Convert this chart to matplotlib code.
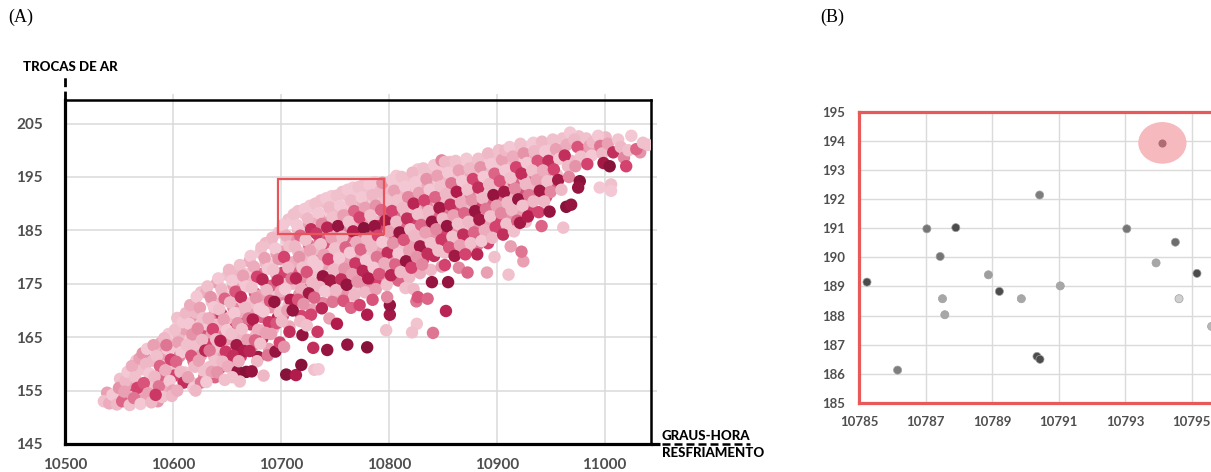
import matplotlib.pyplot as plt
from matplotlib.colors import LinearSegmentedColormap
from matplotlib.patches import Rectangle, Ellipse

plt.rcParams['font.family'] = ['Lato', 'DejaVu Sans']

# (A) graus-hora de resfriamento x trocas de ar (tom = intensidade da cor)
gh = [
    10536, 10541,
    10544, 10548, 10550,
    10553, 10556, 10558, 10555, 10560,
    10562, 10565, 10567, 10564, 10569, 10570,
    10572, 10575, 10578, 10573, 10577, 10580, 10576,
    10582, 10585, 10588, 10583, 10587, 10590, 10584,
    10592, 10595, 10598, 10593, 10597, 10600, 10594, 10599,
    10602, 10605, 10608, 10603, 10607, 10610, 10604, 10609,
    10612, 10615, 10618, 10613, 10617, 10620, 10614, 10619, 10616,
    10622, 10625, 10628, 10623, 10627, 10630, 10624, 10629, 10626, 10621,
    10632, 10635, 10638, 10633, 10637, 10640, 10634, 10639, 10636, 10631,
    10642, 10645, 10648, 10643, 10647, 10650, 10644, 10649, 10646, 10641, 10648,
    10652, 10655, 10658, 10653, 10657, 10660, 10654, 10659, 10656, 10651, 10660, 10655,
    10662, 10665, 10668, 10663, 10667, 10670, 10664, 10669, 10666, 10661, 10668, 10662,
    10672, 10675, 10678, 10673, 10677, 10680, 10674, 10679, 10676, 10671, 10678, 10673,
    10682, 10685, 10688, 10683, 10687, 10690, 10684, 10689, 10686, 10681, 10688, 10684,
    10692, 10695, 10698, 10693, 10697, 10700, 10694, 10699, 10696, 10691, 10695, 10699,
    10702, 10705, 10708, 10703, 10707, 10710, 10704, 10709, 10706, 10701, 10708, 10705, 10703,
    10712, 10715, 10718, 10713, 10717, 10720, 10714, 10719, 10716, 10711, 10718, 10714, 10719, 10720,
    10722, 10725, 10728, 10723, 10727, 10730, 10724, 10729, 10726, 10721, 10728, 10724, 10730,
    10732, 10735, 10738, 10733, 10737, 10740, 10734, 10739, 10736, 10731, 10738, 10731, 10735, 10734,
    10742, 10745, 10748, 10743, 10747, 10750, 10744, 10749, 10746, 10741, 10748, 10743, 10745,
    10752, 10755, 10758, 10753, 10757, 10760, 10754, 10759, 10756, 10751, 10758, 10752,
    10762, 10765, 10768, 10763, 10767, 10770, 10764, 10769, 10766, 10761, 10768, 10761.6, 10765,
    10772, 10775, 10778, 10773, 10777, 10780, 10774, 10779, 10776, 10771, 10778, 10780, 10780, 10773,
    10782, 10785, 10788, 10783, 10787, 10790, 10784, 10789, 10786, 10781, 10788, 10785,
    10792.4, 10794.1, 10798, 10793, 10797, 10800, 10794, 10799, 10796, 10791, 10798, 10797.6, 10801, 10801, 10798.5,
    10803, 10805, 10808, 10803, 10807, 10810, 10804, 10809, 10806, 10802,
    10812, 10815, 10818, 10813, 10817, 10820, 10814, 10819, 10816, 10811, 10815.5,
    10822, 10825, 10828, 10823, 10827, 10830, 10824, 10829, 10826, 10821, 10826, 10821.6, 10825.6, 10823, 10827,
    10832, 10835, 10838, 10833, 10837, 10840, 10834, 10839, 10836, 10831, 10836, 10840,
    10842, 10845, 10848, 10843, 10847, 10850, 10844, 10849, 10846, 10841, 10849,
    10852, 10855, 10858, 10853, 10857, 10860, 10854, 10859, 10856, 10853, 10855, 10852,
    10862, 10865, 10868, 10863, 10867, 10870, 10864, 10869, 10866, 10861, 10865,
    10872, 10875, 10878, 10873, 10877, 10880, 10874, 10879, 10876, 10873, 10871,
    10883, 10885, 10888, 10883, 10887, 10890, 10884, 10889, 10886, 10891, 10882,
    10892, 10895, 10898, 10893, 10897, 10900, 10894, 10899, 10896, 10898,
    10902, 10905, 10908, 10903, 10907, 10910, 10904, 10909, 10906, 10911, 10908,
    10912, 10915, 10918, 10913, 10917, 10920, 10914, 10919, 10916, 10921.6, 10913,
    10922, 10925, 10928, 10923, 10927, 10930, 10924, 10929, 10924.7, 10923,
    10934, 10935, 10938, 10933, 10937, 10940, 10934, 10939, 10941.6,
    10942, 10945, 10948, 10943, 10947, 10950, 10944, 10949,
    10952, 10955, 10958, 10953, 10957, 10960, 10961.7,
    10968, 10965, 10963, 10966, 10964.5, 10969, 10967,
    10972, 10975, 10978, 10977, 10975.5, 10973,
    10983, 10986, 10988, 10984, 10989,
    10994, 10996, 10998, 10995.5, 10999,
    11004.7, 11006, 11006, 11003, 11008, 11012.5,
    11015, 11018, 11024.8, 11022, 11029.4, 11035.5, 11020,
]
trocas = [
    153.0, 152.6,
    154.2, 152.4, 155.5,
    153.0, 156.8, 158.5, 154.8, 152.3,
    159.6, 157.5, 155.5, 153.6, 161.0, 152.5,
    162.0, 160.0, 158.2, 156.4, 154.5, 152.8, 162.8,
    163.5, 161.5, 159.6, 157.6, 155.8, 153.8, 154.2,
    164.8, 162.8, 160.8, 158.8, 156.8, 155.0, 163.5, 154.0,
    166.4, 164.0, 162.2, 160.4, 158.5, 156.5, 155.0, 167.8,
    169.5, 167.5, 165.5, 163.5, 161.5, 159.5, 157.5, 155.5, 171.0,
    172.6, 170.5, 168.6, 166.6, 164.5, 162.5, 160.6, 158.6, 156.5, 155.0,
    174.5, 172.5, 170.6, 168.5, 166.5, 164.6, 162.5, 160.5, 158.5, 156.6,
    176.0, 174.0, 172.2, 170.2, 168.3, 166.3, 164.3, 162.3, 160.4, 158.4, 157.0,
    177.6, 175.6, 173.5, 171.5, 169.5, 167.6, 165.6, 163.5, 161.5, 159.5, 158.6, 157.5,
    178.5, 176.5, 174.5, 172.5, 170.5, 168.5, 166.5, 164.5, 162.4, 160.5, 158.5, 156.7,
    180.2, 178.2, 176.3, 174.3, 172.3, 170.3, 168.3, 166.4, 164.4, 162.4, 160.5, 158.6,
    181.8, 179.8, 177.8, 175.8, 173.8, 171.8, 169.8, 167.8, 165.8, 163.8, 161.6, 157.8,
    183.6, 181.6, 179.6, 177.6, 175.6, 173.6, 171.6, 169.6, 167.6, 165.6, 162.3, 164.0,
    186.0, 184.0, 182.0, 180.0, 178.0, 176.0, 174.0, 172.0, 170.0, 168.0, 166.0, 158.0, 163.2,
    188.0, 186.0, 184.0, 182.0, 180.0, 178.0, 176.0, 174.0, 172.0, 170.0, 168.0, 157.9, 159.8, 165.4,
    189.0, 187.2, 185.2, 183.2, 181.2, 179.2, 177.2, 175.2, 173.2, 171.2, 169.2, 167.2, 163.0,
    190.0, 188.2, 186.2, 184.4, 182.4, 180.4, 178.4, 176.4, 174.4, 172.4, 170.4, 158.9, 159.0, 166.0,
    191.0, 189.3, 187.4, 185.5, 183.6, 181.6, 179.6, 177.6, 175.6, 173.6, 171.6, 162.6, 168.5,
    191.5, 189.6, 187.8, 185.8, 183.8, 181.8, 179.8, 177.8, 175.8, 173.8, 171.8, 167.5,
    192.6, 190.6, 188.6, 186.6, 184.8, 182.8, 180.8, 178.8, 176.8, 174.8, 172.8, 163.6, 170.5,
    193.1, 191.2, 189.2, 187.4, 185.4, 183.4, 181.4, 179.4, 177.4, 175.4, 173.4, 163.1, 169.2, 171.0,
    193.6, 191.6, 189.6, 187.8, 185.8, 184.0, 182.0, 180.0, 178.0, 176.0, 174.0, 172.0,
    192.4, 193.9, 190.6, 188.8, 186.8, 184.8, 182.8, 180.8, 178.8, 176.8, 174.8, 166.3, 169.2, 171.0, 172.5,
    194.4, 192.4, 190.6, 188.6, 186.6, 184.6, 182.6, 180.6, 178.6, 176.6,
    195.0, 193.2, 191.2, 189.2, 187.2, 185.2, 183.2, 181.2, 179.2, 177.2, 174.2,
    195.8, 194.0, 192.0, 190.0, 188.0, 186.0, 184.0, 182.0, 180.0, 178.0, 167.5, 165.9, 171.7, 174.0, 172.5,
    196.6, 194.6, 192.6, 190.6, 188.6, 186.6, 184.6, 182.6, 180.6, 178.6, 172.2, 175.3,
    197.2, 195.2, 193.2, 191.2, 189.2, 187.2, 185.2, 183.2, 181.2, 165.8, 198.1,
    197.8, 195.8, 193.8, 191.8, 189.8, 187.8, 185.8, 183.8, 181.8, 169.9, 175.3, 178.5,
    198.0, 196.2, 194.2, 192.2, 190.2, 188.2, 186.2, 184.2, 182.2, 180.2, 178.0,
    198.4, 196.6, 194.6, 192.6, 190.6, 188.6, 186.6, 184.6, 182.6, 177.1, 180.5,
    198.4, 196.8, 195.0, 193.0, 191.0, 189.0, 187.0, 185.0, 183.0, 177.1, 180.5,
    199.4, 197.4, 195.6, 193.6, 191.6, 189.6, 187.6, 185.6, 183.6, 180.0,
    200.0, 198.2, 196.2, 194.2, 192.2, 190.2, 188.2, 186.2, 184.2, 176.7, 200.0,
    200.6, 198.8, 196.8, 194.8, 192.8, 190.8, 188.8, 186.8, 184.8, 186.4, 182.0,
    201.2, 199.4, 197.6, 195.6, 193.6, 191.6, 189.6, 187.6, 179.2, 181.0,
    201.4, 199.8, 198.0, 196.2, 194.4, 192.4, 190.4, 188.4, 185.8,
    201.6, 199.8, 198.0, 196.2, 194.2, 192.2, 190.4, 188.5,
    202.0, 200.2, 198.4, 196.4, 194.4, 192.6, 185.5,
    203.3, 201.0, 199.0, 197.0, 189.4, 189.8, 195.0,
    202.0, 200.6, 198.8, 194.2, 193.0, 197.0,
    202.2, 200.8, 199.0, 197.4, 201.5,
    202.7, 200.8, 199.4, 193.0, 197.6,
    197.0, 193.6, 192.4, 201.2, 199.6, 202.0,
    200.6, 198.6, 202.7, 200.0, 200.2, 201.4, 197.0,
]
tom = [
    0.15, 0.25,
    0.1, 0.2, 0.35,
    0.5, 0.2, 0.1, 0.3, 0.15,
    0.25, 0.15, 0.6, 0.45, 0.3, 0.1,
    0.35, 0.2, 0.1, 0.55, 0.3, 0.2, 0.1,
    0.3, 0.15, 0.5, 0.2, 0.45, 0.15, 0.65,
    0.2, 0.1, 0.6, 0.25, 0.1, 0.3, 0.45, 0.2,
    0.15, 0.3, 0.1, 0.5, 0.2, 0.7, 0.25, 0.1,
    0.2, 0.1, 0.35, 0.15, 0.55, 0.2, 0.3, 0.1, 0.25,
    0.1, 0.3, 0.15, 0.4, 0.2, 0.75, 0.3, 0.15, 0.45, 0.2,
    0.15, 0.35, 0.1, 0.25, 0.6, 0.2, 0.45, 0.15, 0.3, 0.1,
    0.1, 0.2, 0.5, 0.15, 0.3, 0.1, 0.8, 0.65, 0.2, 0.35, 0.15,
    0.2, 0.1, 0.55, 0.2, 0.1, 0.35, 0.15, 0.85, 0.7, 0.25, 0.9, 0.15,
    0.15, 0.3, 0.1, 0.7, 0.2, 0.45, 0.15, 0.3, 0.8, 0.25, 0.95, 0.15,
    0.1, 0.25, 0.6, 0.15, 0.35, 0.1, 0.8, 0.25, 0.5, 0.75, 0.2, 0.9,
    0.15, 0.3, 0.1, 0.75, 0.2, 0.55, 0.1, 0.65, 0.3, 0.15, 0.45, 0.2,
    0.2, 0.1, 0.35, 0.15, 0.7, 0.25, 0.9, 0.15, 0.55, 0.3, 0.9, 0.6,
    0.1, 0.25, 0.15, 0.6, 0.2, 0.45, 0.1, 0.8, 0.3, 0.2, 0.7, 0.95, 0.35,
    0.15, 0.1, 0.5, 0.2, 0.35, 0.15, 0.75, 0.25, 0.55, 0.9, 0.2, 0.8, 0.95, 0.9,
    0.1, 0.2, 0.7, 0.15, 0.3, 0.1, 0.55, 0.2, 0.85, 0.35, 0.6, 0.15, 0.7,
    0.15, 0.1, 0.4, 0.65, 0.15, 0.3, 0.1, 0.9, 0.2, 0.5, 0.75, 0.15, 0.1, 0.65,
    0.1, 0.2, 0.15, 0.75, 0.3, 0.15, 0.6, 0.2, 0.85, 0.1, 0.45, 0.9, 0.3,
    0.15, 0.1, 0.3, 0.9, 0.2, 0.5, 0.1, 0.35, 0.7, 0.2, 0.55, 0.8,
    0.1, 0.2, 0.5, 0.15, 0.8, 0.25, 0.1, 0.65, 0.3, 0.9, 0.2, 0.9, 0.5,
    0.15, 0.1, 0.3, 0.6, 0.95, 0.2, 0.5, 0.1, 0.75, 0.35, 0.2, 0.95, 0.8, 0.6,
    0.1, 0.2, 0.35, 0.15, 0.9, 0.6, 0.2, 0.45, 0.1, 0.8, 0.3, 0.55,
    0.2, 0.35, 0.15, 0.5, 0.85, 0.3, 0.1, 0.7, 0.25, 0.55, 0.15, 0.15, 0.85, 0.9, 0.4,
    0.1, 0.3, 0.15, 0.6, 0.2, 0.9, 0.35, 0.1, 0.5, 0.75,
    0.15, 0.1, 0.4, 0.2, 0.7, 0.15, 0.55, 0.3, 0.9, 0.2, 0.15,
    0.2, 0.1, 0.3, 0.75, 0.15, 0.5, 0.2, 0.85, 0.35, 0.6, 0.12, 0.15, 0.45, 0.2, 0.55,
    0.15, 0.35, 0.1, 0.6, 0.2, 0.9, 0.3, 0.15, 0.7, 0.4, 0.5, 0.9,
    0.1, 0.3, 0.15, 0.5, 0.85, 0.2, 0.4, 0.65, 0.15, 0.45, 0.4,
    0.2, 0.1, 0.45, 0.2, 0.7, 0.3, 0.9, 0.15, 0.55, 0.75, 0.9, 0.6,
    0.15, 0.3, 0.1, 0.8, 0.25, 0.5, 0.15, 0.7, 0.3, 0.85, 0.4,
    0.1, 0.2, 0.6, 0.15, 0.35, 0.9, 0.2, 0.5, 0.15, 0.5, 0.6,
    0.15, 0.35, 0.1, 0.7, 0.2, 0.45, 0.85, 0.25, 0.1, 0.3, 0.75,
    0.2, 0.1, 0.5, 0.2, 0.9, 0.3, 0.15, 0.6, 0.2, 0.15,
    0.15, 0.3, 0.1, 0.55, 0.85, 0.2, 0.4, 0.15, 0.7, 0.15, 0.2,
    0.1, 0.25, 0.6, 0.15, 0.4, 0.9, 0.2, 0.5, 0.15, 0.85, 0.3,
    0.15, 0.35, 0.1, 0.7, 0.2, 0.45, 0.15, 0.8, 0.3, 0.45,
    0.1, 0.2, 0.55, 0.15, 0.3, 0.85, 0.2, 0.6, 0.5,
    0.2, 0.1, 0.7, 0.25, 0.15, 0.4, 0.2, 0.9,
    0.15, 0.3, 0.1, 0.6, 0.85, 0.2, 0.15,
    0.1, 0.25, 0.7, 0.2, 0.95, 0.9, 0.4,
    0.2, 0.55, 0.15, 0.95, 0.9, 0.35,
    0.15, 0.3, 0.1, 0.6, 0.2,
    0.1, 0.45, 0.2, 0.1, 0.85,
    0.95, 0.15, 0.1, 0.3, 0.7, 0.12,
    0.2, 0.4, 0.1, 0.15, 0.5, 0.15, 0.6,
]

# pontos do miolo da nuvem (mesma série, lidos entre os anteriores)
gh_miolo = [
    10539, 10546,
    10551, 10557, 10559,
    10561, 10566, 10568, 10563,
    10571, 10574, 10579, 10576, 10571,
    10581, 10586, 10589, 10581, 10586, 10589,
    10591, 10596, 10593, 10598, 10596, 10591,
    10601, 10606, 10603, 10608, 10606, 10601, 10604,
    10611, 10616, 10613, 10619, 10611, 10617, 10619,
    10621, 10626, 10629, 10622, 10626, 10621, 10629, 10626,
    10631, 10636, 10639, 10631, 10636, 10633, 10638, 10634, 10639,
    10641, 10646, 10641, 10645, 10641, 10646, 10642, 10647, 10644,
    10651, 10656, 10651, 10656, 10652, 10657, 10651, 10657, 10653,
    10661, 10666, 10661, 10666, 10661, 10666, 10661, 10667, 10663, 10668,
    10671, 10676, 10671, 10676, 10671, 10676, 10672, 10677, 10674, 10679,
    10681, 10686, 10681, 10686, 10681, 10686, 10682, 10687, 10683, 10689, 10686,
    10691, 10696, 10691, 10696, 10691, 10696, 10691, 10697, 10693, 10698,
    10701, 10706, 10701, 10706, 10701, 10706, 10701, 10707, 10702, 10708, 10707,
    10711, 10716, 10711, 10716, 10711, 10716, 10711, 10717, 10712, 10719, 10716,
    10721, 10726, 10721, 10726, 10721, 10726, 10721, 10727, 10722, 10729, 10727,
    10731, 10736, 10731, 10736, 10731, 10736, 10731, 10737, 10732, 10739, 10737,
    10741, 10746, 10741, 10746, 10741, 10746, 10741, 10747, 10742, 10749, 10747,
    10751, 10756, 10751, 10756, 10751, 10756, 10751, 10757, 10752, 10759, 10757,
    10761, 10766, 10761, 10766, 10761, 10766, 10761, 10767, 10762, 10769, 10767,
    10771, 10776, 10771, 10776, 10771, 10776, 10771, 10777, 10772, 10779, 10777,
    10781, 10786, 10781, 10786, 10781, 10786, 10781, 10787, 10782, 10789, 10787,
    10791, 10796, 10791, 10796, 10791, 10796, 10791, 10797, 10792, 10799,
    10801, 10806, 10801, 10806, 10801, 10806, 10801, 10807, 10802, 10809, 10807,
    10811, 10816, 10811, 10816, 10811, 10816, 10811, 10817, 10812, 10819,
    10821, 10826, 10821, 10826, 10821, 10826, 10821, 10827, 10822, 10829, 10827,
    10831, 10836, 10831, 10836, 10831, 10836, 10831, 10837, 10832, 10839,
    10841, 10846, 10841, 10846, 10841, 10846, 10841, 10847, 10842, 10849,
    10851, 10856, 10851, 10856, 10851, 10856, 10851, 10857, 10852, 10857,
    10861, 10866, 10861, 10866, 10861, 10866, 10861, 10867, 10862,
    10871, 10876, 10871, 10876, 10871, 10876, 10871, 10877, 10872,
    10881, 10886, 10881, 10886, 10881, 10886, 10881, 10887, 10882,
    10891, 10896, 10891, 10896, 10891, 10896, 10891, 10897, 10892,
    10901, 10906, 10901, 10906, 10901, 10906, 10901, 10907,
    10911, 10916, 10911, 10916, 10911, 10916, 10911, 10917,
    10921, 10926, 10921, 10926, 10921, 10926, 10921, 10927,
    10931, 10936, 10931, 10936, 10931, 10936, 10932,
    10941, 10946, 10941, 10946, 10941, 10946,
    10951, 10956, 10951, 10956, 10951,
    10961, 10961, 10969,
    10976, 10980,
    10990,
    11001,
    11033, 11040,
]
trocas_miolo = [
    154.6, 153.4,
    157.2, 155.6, 153.8,
    156.4, 160.6, 154.2, 158.5,
    159.0, 161.2, 157.2, 155.4, 153.2,
    160.6, 162.8, 158.5, 156.4, 153.0, 164.0,
    161.8, 159.8, 157.4, 163.8, 165.6, 155.6,
    163.2, 161.4, 159.2, 157.4, 165.2, 157.8, 168.6,
    166.5, 164.6, 162.4, 160.5, 158.4, 156.5, 168.6,
    169.6, 167.5, 165.5, 163.5, 161.6, 159.5, 157.6, 173.4,
    173.4, 171.6, 169.5, 167.4, 165.5, 163.6, 161.4, 159.4, 157.5,
    175.2, 173.0, 171.2, 169.3, 167.2, 165.2, 163.3, 161.4, 159.3,
    176.6, 174.6, 172.6, 170.5, 168.6, 166.6, 164.6, 162.5, 160.5,
    177.4, 175.5, 173.5, 171.5, 169.5, 167.5, 165.5, 163.4, 161.4, 176.8,
    179.2, 177.3, 175.3, 173.2, 171.3, 169.3, 167.4, 165.4, 163.4, 161.3,
    180.8, 178.8, 176.8, 174.8, 172.8, 170.8, 168.8, 166.8, 164.8, 162.8, 182.6,
    182.6, 180.6, 178.6, 176.6, 174.6, 172.6, 170.6, 168.6, 166.6, 184.6,
    184.9, 183.0, 181.0, 179.0, 177.0, 175.0, 173.0, 171.0, 169.0, 167.0, 187.0,
    187.0, 185.0, 183.0, 181.0, 179.0, 177.0, 175.0, 173.0, 171.0, 169.0, 188.6,
    188.2, 186.2, 184.2, 182.2, 180.2, 178.2, 176.2, 174.2, 172.2, 170.2, 189.6,
    189.2, 187.2, 185.3, 183.4, 181.4, 179.4, 177.4, 175.4, 173.4, 171.4, 190.6,
    190.2, 188.4, 186.4, 184.5, 182.6, 180.6, 178.6, 176.6, 174.6, 172.6, 191.4,
    190.6, 188.7, 186.8, 184.8, 182.8, 180.8, 178.8, 176.8, 174.8, 172.8, 192.2,
    191.6, 189.6, 187.6, 185.7, 183.8, 181.8, 179.8, 177.8, 175.8, 173.8, 193.0,
    192.2, 190.2, 188.3, 186.4, 184.4, 182.4, 180.4, 178.4, 176.4, 174.4, 193.6,
    192.6, 190.6, 188.7, 186.8, 184.9, 183.0, 181.0, 179.0, 177.0, 175.0, 194.0,
    193.4, 191.6, 189.7, 187.8, 185.8, 183.8, 181.8, 179.8, 177.8, 175.8,
    193.4, 191.5, 189.6, 187.6, 185.6, 183.6, 181.6, 179.6, 177.6, 175.6, 195.2,
    194.2, 192.2, 190.2, 188.2, 186.2, 184.2, 182.2, 180.2, 178.2, 176.2,
    194.8, 193.0, 191.0, 189.0, 187.0, 185.0, 183.0, 181.0, 179.0, 177.0, 196.4,
    195.6, 193.6, 191.6, 189.6, 187.6, 185.6, 183.6, 181.6, 179.6, 177.6,
    196.2, 194.2, 192.2, 190.2, 188.2, 186.2, 184.2, 182.2, 180.2, 178.2,
    196.8, 194.8, 192.8, 190.8, 188.8, 186.8, 184.8, 182.8, 180.8, 197.8,
    197.2, 195.2, 193.2, 191.2, 189.2, 187.2, 185.2, 183.2, 181.2,
    197.6, 195.6, 193.6, 191.6, 189.6, 187.6, 185.6, 183.6, 181.6,
    197.8, 196.0, 194.0, 192.0, 190.0, 188.0, 186.0, 184.0, 182.2,
    198.6, 196.6, 194.6, 192.6, 190.6, 188.6, 186.6, 184.6, 182.6,
    199.2, 197.2, 195.2, 193.2, 191.2, 189.2, 187.2, 185.2,
    199.8, 197.8, 195.8, 193.8, 191.8, 189.8, 187.8, 185.8,
    200.4, 198.5, 196.6, 194.6, 192.6, 190.6, 188.6, 186.6,
    200.8, 199.0, 197.2, 195.2, 193.4, 191.4, 189.4,
    200.8, 198.9, 197.1, 195.2, 193.2, 191.3,
    201.2, 199.3, 197.4, 195.4, 193.4,
    202.2, 200.0, 198.0,
    202.6, 200.0,
    199.6,
    202.4,
    199.6, 201.0,
]
tom_miolo = [
    0.3, 0.45,
    0.15, 0.6, 0.2,
    0.3, 0.1, 0.2, 0.4,
    0.15, 0.45, 0.25, 0.7, 0.3,
    0.2, 0.1, 0.3, 0.15, 0.35, 0.25,
    0.3, 0.15, 0.5, 0.2, 0.1, 0.25,
    0.1, 0.4, 0.15, 0.3, 0.2, 0.6, 0.15,
    0.3, 0.1, 0.25, 0.45, 0.15, 0.2, 0.35,
    0.2, 0.1, 0.55, 0.15, 0.3, 0.2, 0.4, 0.15,
    0.25, 0.15, 0.4, 0.1, 0.3, 0.6, 0.2, 0.15, 0.5,
    0.3, 0.1, 0.2, 0.65, 0.2, 0.4, 0.15, 0.3, 0.55,
    0.15, 0.3, 0.1, 0.4, 0.2, 0.6, 0.3, 0.2, 0.5,
    0.2, 0.1, 0.35, 0.15, 0.25, 0.75, 0.2, 0.45, 0.6, 0.1,
    0.25, 0.1, 0.2, 0.55, 0.15, 0.3, 0.65, 0.2, 0.4, 0.85,
    0.1, 0.2, 0.45, 0.15, 0.3, 0.2, 0.5, 0.15, 0.7, 0.3, 0.2,
    0.15, 0.3, 0.1, 0.25, 0.5, 0.15, 0.35, 0.75, 0.2, 0.1,
    0.2, 0.1, 0.3, 0.15, 0.6, 0.2, 0.4, 0.15, 0.55, 0.25, 0.15,
    0.1, 0.2, 0.35, 0.15, 0.25, 0.5, 0.2, 0.35, 0.15, 0.6, 0.15,
    0.15, 0.3, 0.1, 0.45, 0.2, 0.15, 0.35, 0.65, 0.2, 0.3, 0.1,
    0.1, 0.25, 0.15, 0.5, 0.2, 0.35, 0.15, 0.55, 0.25, 0.4, 0.15,
    0.15, 0.1, 0.3, 0.2, 0.55, 0.15, 0.3, 0.2, 0.6, 0.25, 0.1,
    0.1, 0.2, 0.15, 0.4, 0.2, 0.3, 0.15, 0.5, 0.25, 0.35, 0.15,
    0.15, 0.1, 0.35, 0.2, 0.5, 0.15, 0.3, 0.2, 0.6, 0.15, 0.1,
    0.1, 0.25, 0.15, 0.3, 0.45, 0.15, 0.25, 0.5, 0.2, 0.35, 0.15,
    0.15, 0.1, 0.3, 0.2, 0.55, 0.2, 0.15, 0.4, 0.25, 0.6, 0.1,
    0.1, 0.2, 0.15, 0.35, 0.6, 0.2, 0.3, 0.15, 0.5, 0.3,
    0.15, 0.1, 0.25, 0.45, 0.2, 0.6, 0.15, 0.35, 0.2, 0.5, 0.1,
    0.1, 0.2, 0.3, 0.15, 0.5, 0.25, 0.15, 0.6, 0.3, 0.2,
    0.15, 0.1, 0.35, 0.2, 0.6, 0.15, 0.3, 0.2, 0.5, 0.25, 0.1,
    0.1, 0.25, 0.15, 0.4, 0.2, 0.55, 0.15, 0.3, 0.6, 0.2,
    0.15, 0.1, 0.3, 0.2, 0.5, 0.15, 0.35, 0.2, 0.7, 0.3,
    0.1, 0.2, 0.35, 0.15, 0.45, 0.2, 0.6, 0.25, 0.15, 0.15,
    0.15, 0.1, 0.3, 0.2, 0.55, 0.15, 0.35, 0.2, 0.5,
    0.1, 0.25, 0.15, 0.4, 0.2, 0.55, 0.15, 0.3, 0.2,
    0.15, 0.1, 0.3, 0.15, 0.6, 0.2, 0.35, 0.15, 0.45,
    0.1, 0.2, 0.35, 0.15, 0.5, 0.2, 0.3, 0.15, 0.6,
    0.15, 0.1, 0.3, 0.2, 0.45, 0.15, 0.6, 0.25,
    0.1, 0.2, 0.15, 0.5, 0.25, 0.15, 0.35, 0.6,
    0.15, 0.1, 0.35, 0.2, 0.55, 0.15, 0.3, 0.2,
    0.1, 0.25, 0.15, 0.45, 0.2, 0.3, 0.6,
    0.15, 0.2, 0.1, 0.35, 0.2, 0.55,
    0.1, 0.2, 0.35, 0.15, 0.5,
    0.15, 0.3, 0.2,
    0.15, 0.35,
    0.3,
    0.2,
    0.35, 0.15,
]

# (B) recorte ampliado
gh_zoom = [10785.24, 10786.16, 10787.04, 10787.91, 10787.44, 10787.51, 10787.58,
           10788.89, 10789.22, 10789.88, 10790.43, 10790.35, 10790.44, 10791.05,
           10793.05, 10794.51, 10793.93, 10795.16, 10794.62, 10795.6]
trocas_zoom = [189.15, 186.13, 190.98, 191.02, 190.03, 188.58, 188.03,
               189.40, 188.83, 188.58, 192.14, 186.60, 186.50, 189.02,
               190.98, 190.52, 189.81, 189.45, 188.58, 187.63]
tom_zoom = [0.9, 0.6, 0.65, 0.9, 0.65, 0.35, 0.35,
            0.4, 0.9, 0.35, 0.6, 0.9, 0.9, 0.35,
            0.65, 0.7, 0.35, 0.9, 0.1, 0.25]
destaque = (10794.12, 193.93)

xticks_a = [10500, 10600, 10700, 10800, 10900, 11000]
yticks_a = [145, 155, 165, 175, 185, 195, 205]
xticks_b = [10785, 10787, 10789, 10791, 10793, 10795]
xgrid_b = [10797, 10799]
yticks_b = list(range(185, 196))

rosa = LinearSegmentedColormap.from_list(
    'rosa', ['#f6d6de', '#efb8c7', '#e2879f', '#d4426f', '#b11c4c', '#7a0f34'])
cinza = LinearSegmentedColormap.from_list('cinza', ['#e0e0e0', '#3c3c3c'])

W, H = 1211, 472
fig = plt.figure(figsize=(W / 100, H / 100), dpi=100)

# ---------- painel A ----------
axA = fig.add_axes([65 / W, 28 / H, 586 / W, 344 / H])
axA.scatter(gh_miolo, trocas_miolo, c=tom_miolo,
            cmap=rosa, vmin=0, vmax=1, s=80, linewidths=0, zorder=3)
axA.scatter(gh, trocas, c=tom,
            cmap=rosa, vmin=0, vmax=1, s=80, linewidths=0, zorder=3)
axA.set_xlim(10500, 11043)
axA.set_ylim(145, 209.4)
axA.set_xticks(xticks_a)
axA.set_yticks(yticks_a)
axA.grid(color='#dadada', lw=1.1)
axA.set_axisbelow(True)
for side, lw in [('left', 2.3), ('bottom', 2.3), ('top', 1.8), ('right', 1.8)]:
    axA.spines[side].set_color('black')
    axA.spines[side].set_linewidth(lw)
axA.tick_params(left=False, bottom=False, top=True, right=True,
                direction='out', length=4, width=1.1, color='#dadada',
                labelsize=11, labelcolor='#4f4f4f')
axA.tick_params(axis='y', pad=12)
axA.tick_params(axis='x', pad=6)
plt.setp(axA.get_xticklabels() + axA.get_yticklabels(), fontweight='bold')

axA.add_patch(Rectangle((10697, 184.4), 99, 10.3, fill=False,
                        ec='#e8545a', lw=1.6, zorder=4))

# prolongamentos dos eixos
axA.plot([1.0, 1.016], [0, 0], color='black', lw=2.3,
         transform=axA.transAxes, clip_on=False, solid_capstyle='butt')
axA.plot([1.019, 1.169], [0, 0], color='black', lw=1.8, dashes=(3.2, 1.6),
         transform=axA.transAxes, clip_on=False)
axA.plot([0, 0], [1.0, 1.073], color='black', lw=2.0, dashes=(3.2, 1.6),
         transform=axA.transAxes, clip_on=False)

fig.text(23 / W, 1 - 67 / H, 'TROCAS DE AR', fontsize=9.5, fontweight='black',
         va='center', ha='left', color='black')
fig.text(662 / W, 1 - 436 / H, 'GRAUS-HORA', fontsize=9.5, fontweight='black',
         va='center', ha='left', color='black')
fig.text(662 / W, 1 - 453 / H, 'RESFRIAMENTO', fontsize=9.5, fontweight='black',
         va='center', ha='left', color='black')

# ---------- painel B ----------
axB = fig.add_axes([859 / W, 69 / H, 499 / W, 291.3 / H])
axB.add_patch(Ellipse(destaque, 1.45, 1.43, fc='#f6b9bd', ec='none', zorder=2))
axB.scatter(gh_zoom, trocas_zoom, c=tom_zoom, cmap=cinza, vmin=0, vmax=1,
            s=34, linewidths=0.5, edgecolors='#a0a0a0', zorder=3)
axB.scatter([destaque[0]], [destaque[1]], color='#b06b75', s=34,
            linewidths=0, zorder=3)
axB.set_xlim(10785, 10800)
axB.set_ylim(185, 195)
axB.set_xticks(xticks_b)
axB.set_yticks(yticks_b)
axB.grid(color='#dadada', lw=1.0)
for xg in xgrid_b:
    axB.axvline(xg, color='#dadada', lw=1.0, zorder=0)
axB.set_axisbelow(True)
for side in axB.spines:
    axB.spines[side].set_color('#e85a5a')
    axB.spines[side].set_linewidth(2.3)
axB.tick_params(length=0, labelsize=9.5, labelcolor='#4f4f4f')
axB.tick_params(axis='y', pad=10)
axB.tick_params(axis='x', pad=9)
plt.setp(axB.get_xticklabels() + axB.get_yticklabels(), fontweight='bold')

fig.text(8 / W, 1 - 9 / H, '(A)', family='Liberation Serif', fontsize=13,
         va='top', ha='left')
fig.text(820 / W, 1 - 9 / H, '(B)', family='Liberation Serif', fontsize=13,
         va='top', ha='left')

fig.savefig('out.png', dpi=100)
